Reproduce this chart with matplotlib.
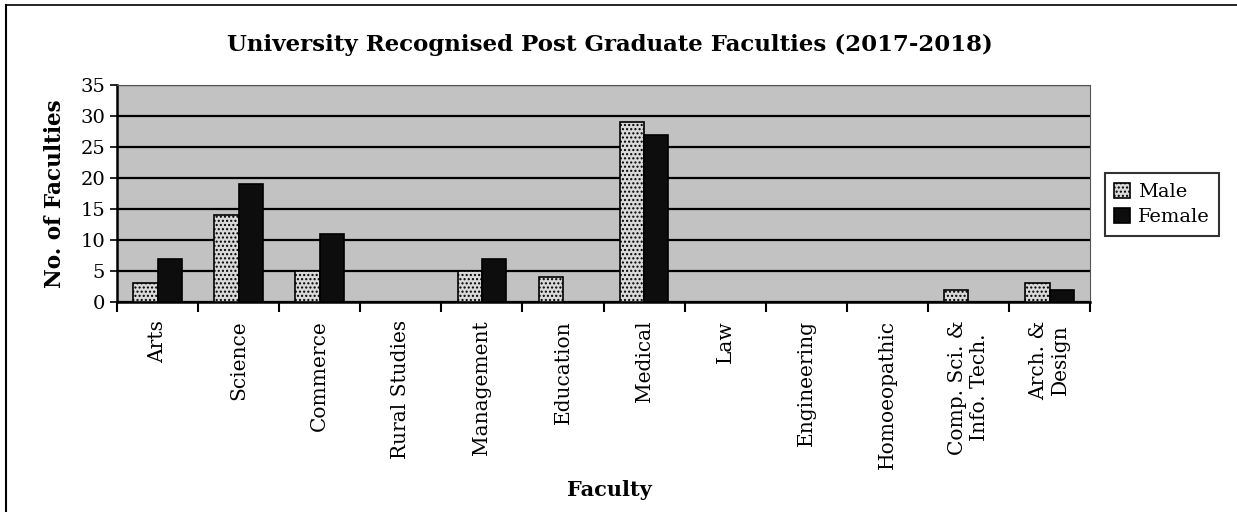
import numpy as np
import matplotlib.pyplot as plt
from matplotlib.lines import Line2D


faculties = ['Arts', 'Science', 'Commerce', 'Rural Studies', 'Management',
             'Education', 'Medical', 'Law', 'Engineering', 'Homoeopathic',
             'Comp. Sci. &\nInfo. Tech.', 'Arch. &\nDesign']
male = [3, 14, 5, 0, 5, 4, 29, 0, 0, 0, 2, 3]
female = [7, 19, 11, 0, 7, 0, 27, 0, 0, 0, 0, 2]
yticks = range(0, 36, 5)


def faculty_chart():
    fig = plt.figure(figsize=(12.37, 5.12), dpi=100)
    ax = fig.add_axes([0.0946, 0.41, 0.7866, 0.424])
    ax.set_facecolor('#c2c2c2')

    x = np.arange(len(faculties))
    w = 0.3
    ax.bar(x - w / 2, male, w, color='#d9d9d9', edgecolor='black',
           hatch='....', linewidth=1.2, label='Male', zorder=3)
    ax.bar(x + w / 2, female, w, color='#0d0d0d', edgecolor='black',
           linewidth=1.2, label='Female', zorder=3)

    ax.set_xlim(-0.5, len(faculties) - 0.5)
    ax.set_ylim(0, 35)
    ax.set_yticks(yticks)
    ax.yaxis.grid(True, color='black', linewidth=1.6, zorder=1)
    ax.set_axisbelow(True)

    # category boundaries as ticks, names at the centres
    ax.set_xticks(np.arange(-0.5, len(faculties), 1))
    ax.set_xticklabels([])
    ax.set_xticks(x, minor=True)
    ax.set_xticklabels(faculties, minor=True, rotation=90, va='top',
                       ha='center', fontsize=14.5, family='DejaVu Serif',
                       linespacing=1.15)
    ax.tick_params(axis='x', which='major', length=7, width=1.5, direction='out')
    ax.tick_params(axis='x', which='minor', length=0, pad=13)
    ax.tick_params(axis='y', length=5, width=1.2, labelsize=14)
    for t in ax.get_yticklabels():
        t.set_family('DejaVu Serif')

    for s in ['left', 'bottom']:
        ax.spines[s].set_linewidth(1.8)
    for s in ['top', 'right']:
        ax.spines[s].set_linewidth(0.8)
        ax.spines[s].set_color('#555555')

    ax.set_ylabel('No. of Faculties', fontsize=15.5, fontweight='bold',
                  family='DejaVu Serif', labelpad=10)
    fig.text(0.493, 0.042, 'Faculty', ha='center', va='center', fontsize=15,
             fontweight='bold', family='DejaVu Serif')
    fig.text(0.493, 0.912, 'University Recognised Post Graduate Faculties (2017-2018)',
             ha='center', va='center', fontsize=16.5, fontweight='bold',
             family='DejaVu Serif')

    leg = ax.legend(loc='center left', bbox_to_anchor=(0.893, 0.6),
                    bbox_transform=fig.transFigure,
                    prop={'family': 'DejaVu Serif', 'size': 14},
                    frameon=True, fancybox=False, edgecolor='black',
                    handlelength=0.8, handleheight=0.8, handletextpad=0.4,
                    borderpad=0.5, labelspacing=0.35, borderaxespad=0)
    leg.get_frame().set_linewidth(1.5)

    # outer frame of the scanned chart
    fig.add_artist(Line2D([0.005, 0.005], [0, 0.99], color='black', linewidth=1.5))
    fig.add_artist(Line2D([0.005, 1], [0.99, 0.99], color='black', linewidth=1.2))

    fig.savefig('out.png', dpi=100)


if __name__ == '__main__':
    faculty_chart()
